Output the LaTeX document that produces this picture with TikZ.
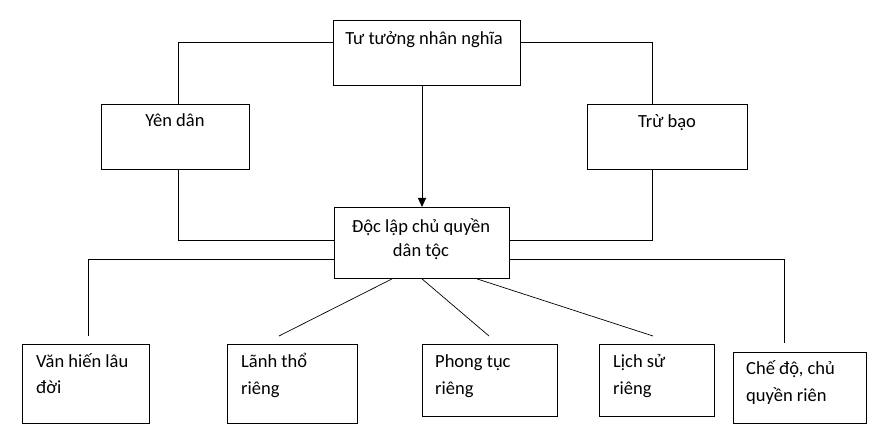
\documentclass[tikz,border=0pt]{standalone}
\usepackage{fontspec}
\setmainfont{Carlito}
\usetikzlibrary{arrows.meta}
\tikzset{
  box/.style={draw, line width=0.9pt, anchor=north west, inner sep=0pt},
  lbl/.style={inner sep=0pt, font=\fontsize{18.5}{22}\selectfont},
  conn/.style={line width=0.9pt},
  diag/.style={line width=0.7pt}
}
\begin{document}
\begin{tikzpicture}[x=1pt,y=-1pt]
\useasboundingbox (0,0) rectangle (871,435);
% boxes
\node[box, minimum width=187pt, minimum height=65pt] (top) at (333,20) {};
\node[box, minimum width=148pt, minimum height=65pt] (yen) at (101,104) {};
\node[box, minimum width=160pt, minimum height=65pt] (tru) at (587,104) {};
\node[box, minimum width=175pt, minimum height=71pt] (doc) at (334,207) {};
\node[box, minimum width=127pt, minimum height=79pt] (van) at (22,344) {};
\node[box, minimum width=130pt, minimum height=79pt] (lanh) at (227,344) {};
\node[box, minimum width=135pt, minimum height=72pt] (phong) at (422,344) {};
\node[box, minimum width=115pt, minimum height=72pt] (lich) at (599,344) {};
\node[box, minimum width=133pt, minimum height=71pt] (che) at (733,352) {};
% texts
\node[lbl, anchor=base] (tTop) at (424,45) {Tư tưởng nhân nghĩa};
\node[lbl, anchor=base] (tYen) at (175,127) {Yên dân};
\node[lbl, anchor=base] (tTru) at (667,128) {Trừ bạo};
\node[lbl, anchor=base] (tDoc1) at (421,233) {Độc lập chủ quyền};
\node[lbl, anchor=base] (tDoc2) at (421,257) {dân tộc};
\node[lbl, anchor=base west] (tVan1) at (36,368) {Văn hiến lâu};
\node[lbl, anchor=base west] (tVan2) at (36,394) {đời};
\node[lbl, anchor=base west] (tLanh1) at (241,368) {Lãnh thổ};
\node[lbl, anchor=base west] (tLanh2) at (241,395) {riêng};
\node[lbl, anchor=base west] (tPhong1) at (435,368) {Phong tục};
\node[lbl, anchor=base west] (tPhong2) at (435,395) {riêng};
\node[lbl, anchor=base west] (tLich1) at (613,368) {Lịch sử};
\node[lbl, anchor=base west] (tLich2) at (613,395) {riêng};
\node[lbl, anchor=base west] (tChe1) at (746,375) {Chế độ, chủ};
\node[lbl, anchor=base west] (tChe2) at (746,402) {quyền riên};
% bend points
\coordinate (ya) at (178,42);
\coordinate (tb) at (652,42);
\coordinate (yb) at (178,240);
\coordinate (tbb) at (652,240);
\coordinate (ar) at (422,100);
\coordinate (vl) at (88,259);
\coordinate (vle) at (88,336);
\coordinate (cr) at (784,259);
\coordinate (cre) at (784,343);
\coordinate (l1e) at (279,336);
\coordinate (l2e) at (489,336);
\coordinate (l3e) at (653,336);
% connectors
\draw[conn] (top.west |- ya) -- (ya) -- (ya |- yen.north);
\draw[conn] (top.east |- tb) -- (tb) -- (tb |- tru.north);
\draw[conn] (yen.south -| yb) -- (yb) -- (doc.west |- yb);
\draw[conn] (tru.south -| tbb) -- (tbb) -- (doc.east |- tbb);
\draw[conn, -{Triangle[length=9pt,width=8pt]}] (top.south -| ar) -- (doc.north -| ar);
\draw[conn] (doc.west |- vl) -- (vl) -- (vle);
\draw[conn] (doc.east |- cr) -- (cr) -- (cre);
\draw[diag] ([xshift=58pt]doc.south west) -- (l1e);
\draw[diag] ([xshift=88pt]doc.south west) -- (l2e);
\draw[diag] ([xshift=143pt]doc.south west) -- (l3e);
\end{tikzpicture}
\end{document}
